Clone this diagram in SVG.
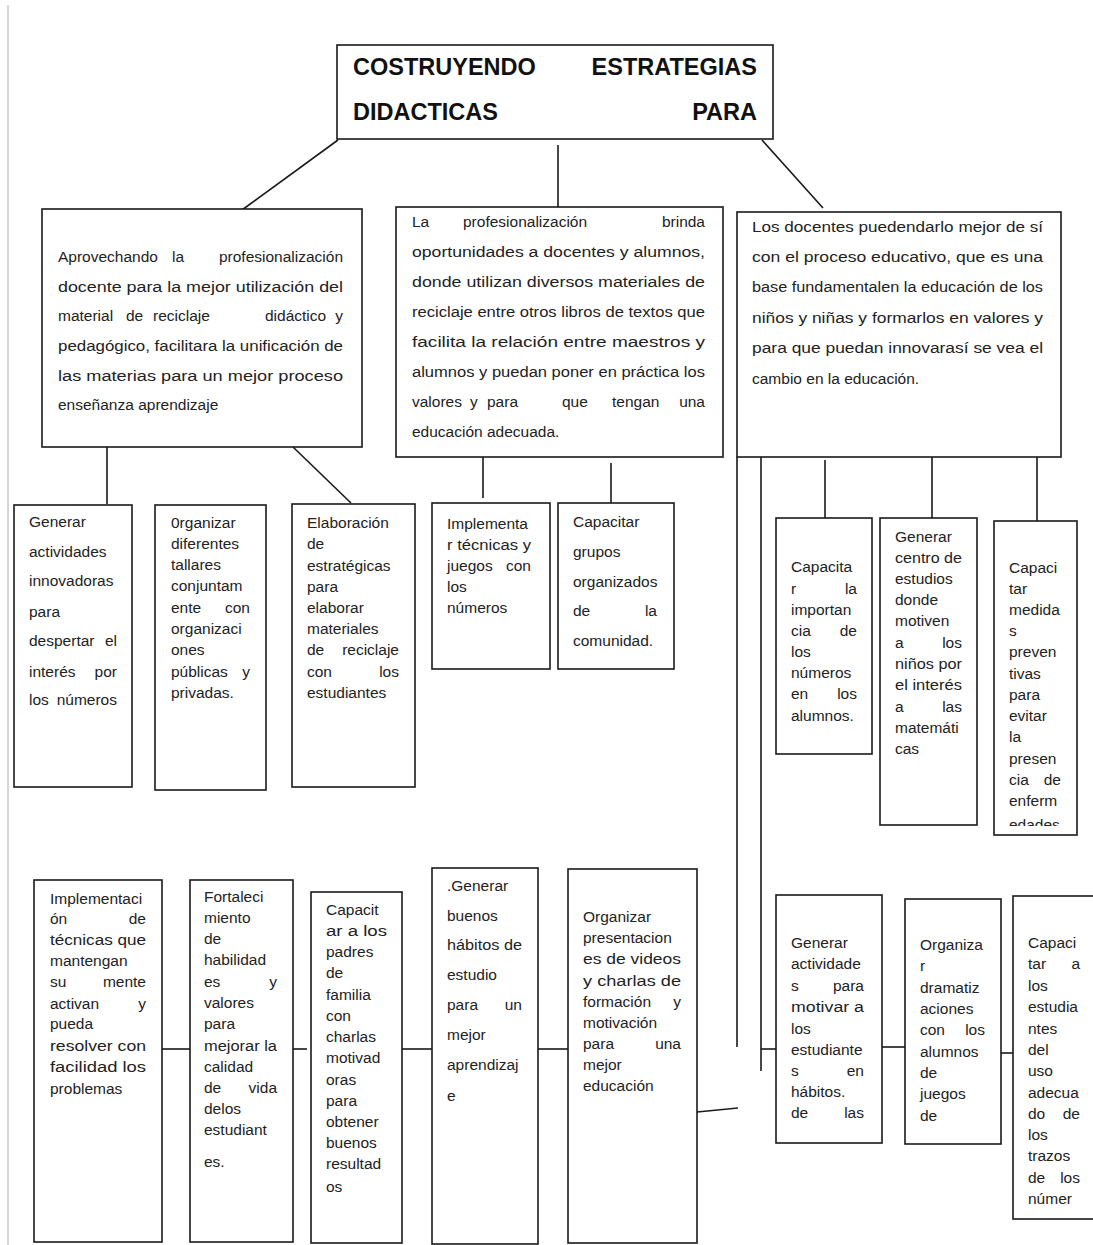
<svg xmlns="http://www.w3.org/2000/svg" width="1093" height="1245" viewBox="0 0 1093 1245">
<style>
.bx{fill:#fff;stroke:#1a1a1a;stroke-width:1.6}
.ln{stroke:#1a1a1a;stroke-width:1.6;fill:none}
.t{font-family:"Liberation Sans",Arial,sans-serif;font-size:15.5px;fill:#222}
.e{text-anchor:end}
.h{font-family:"Liberation Sans",Arial,sans-serif;font-size:23.5px;font-weight:bold;fill:#111}
</style>
<defs>
<clipPath id="c3"><rect x="994" y="521" width="83" height="305"/></clipPath>
</defs>
<rect width="1093" height="1245" fill="#fff"/>
<line x1="8" y1="5" x2="8" y2="1245" stroke="#c8c8c8" stroke-width="1.5"/>

<g id="connectors">
<line class="ln" x1="338" y1="140" x2="242" y2="210"/>
<line class="ln" x1="558" y1="145" x2="558" y2="207"/>
<line class="ln" x1="762" y1="140" x2="823" y2="208"/>
<line class="ln" x1="107" y1="447" x2="107" y2="504"/>
<line class="ln" x1="293" y1="447" x2="351" y2="503"/>
<line class="ln" x1="483" y1="457" x2="483" y2="498"/>
<line class="ln" x1="611" y1="463" x2="611" y2="503"/>
<line class="ln" x1="825" y1="460" x2="825" y2="522"/>
<line class="ln" x1="932" y1="457" x2="932" y2="520"/>
<line class="ln" x1="1037" y1="457" x2="1037" y2="521"/>
<line class="ln" x1="737" y1="457" x2="737" y2="1047"/>
<line class="ln" x1="761" y1="457" x2="761" y2="1071"/>
<line class="ln" x1="761" y1="1049" x2="776" y2="1049"/>
<line class="ln" x1="878" y1="1047" x2="905" y2="1047"/>
<line class="ln" x1="998" y1="1053" x2="1026" y2="1053"/>
<line class="ln" x1="697" y1="1112" x2="738" y2="1108"/>
<line class="ln" x1="162" y1="1049" x2="190" y2="1049"/>
<line class="ln" x1="293" y1="1049" x2="307" y2="1049"/>
<line class="ln" x1="402" y1="1049" x2="433" y2="1049"/>
<line class="ln" x1="538" y1="1049" x2="568" y2="1049"/>
</g>

<g id="title">
<rect class="bx" x="337" y="45" width="436" height="94"/>
<text class="h" x="353" y="75">COSTRUYENDO</text>
<text class="h e" x="757" y="75">ESTRATEGIAS</text>
<text class="h" x="353" y="120">DIDACTICAS</text>
<text class="h e" x="757" y="120">PARA</text>
</g>

<g id="box-left">
<rect class="bx" x="42" y="209" width="320" height="238"/>
<text class="t" x="58" y="262">Aprovechando</text><text class="t" x="172" y="262">la</text><text class="t e" x="343" y="262">profesionalización</text>
<text class="t" x="58" y="292" textLength="285" lengthAdjust="spacingAndGlyphs">docente para la mejor utilización del</text>
<text class="t" x="58" y="321">material</text><text class="t" x="126" y="321">de</text><text class="t" x="153" y="321">reciclaje</text><text class="t" x="265" y="321">didáctico</text><text class="t e" x="343" y="321">y</text>
<text class="t" x="58" y="351" textLength="285" lengthAdjust="spacingAndGlyphs">pedagógico, facilitara  la unificación de</text>
<text class="t" x="58" y="381" textLength="285" lengthAdjust="spacingAndGlyphs">las materias para un mejor proceso</text>
<text class="t" x="58" y="410">enseñanza aprendizaje</text>
</g>

<g id="box-middle">
<rect class="bx" x="396" y="207" width="327" height="250"/>
<text class="t" x="412" y="227">La</text><text class="t" x="463" y="227">profesionalización</text><text class="t e" x="705" y="227">brinda</text>
<text class="t" x="412" y="257" textLength="293" lengthAdjust="spacingAndGlyphs">oportunidades a docentes y alumnos,</text>
<text class="t" x="412" y="287" textLength="293" lengthAdjust="spacingAndGlyphs">donde utilizan diversos materiales de</text>
<text class="t" x="412" y="317" textLength="293" lengthAdjust="spacingAndGlyphs">reciclaje entre otros libros de textos que</text>
<text class="t" x="412" y="347" textLength="293" lengthAdjust="spacingAndGlyphs">facilita la relación entre maestros y</text>
<text class="t" x="412" y="377" textLength="293" lengthAdjust="spacingAndGlyphs">alumnos y puedan poner en práctica los</text>
<text class="t" x="412" y="407">valores</text><text class="t" x="470" y="407">y</text><text class="t" x="487" y="407">para</text><text class="t" x="562" y="407">que</text><text class="t" x="612" y="407">tengan</text><text class="t e" x="705" y="407">una</text>
<text class="t" x="412" y="437">educación adecuada.</text>
</g>

<g id="box-right">
<rect class="bx" x="737" y="212" width="324" height="245"/>
<text class="t" x="752" y="232" textLength="291" lengthAdjust="spacingAndGlyphs">Los docentes puedendarlo mejor de sí</text>
<text class="t" x="752" y="262" textLength="291" lengthAdjust="spacingAndGlyphs">con el proceso educativo, que es una</text>
<text class="t" x="752" y="292" textLength="291" lengthAdjust="spacingAndGlyphs">base fundamentalen la educación de los</text>
<text class="t" x="752" y="323" textLength="291" lengthAdjust="spacingAndGlyphs">niños y niñas y formarlos en valores y</text>
<text class="t" x="752" y="353" textLength="291" lengthAdjust="spacingAndGlyphs">para que puedan innovarasí se vea el</text>
<text class="t" x="752" y="384">cambio en la educación.</text>
</g>

<g id="box-a">
<rect class="bx" x="14" y="505" width="118" height="282"/>
<text class="t" x="29" y="527">Generar</text>
<text class="t" x="29" y="557">actividades</text>
<text class="t" x="29" y="586">innovadoras</text>
<text class="t" x="29" y="617">para</text>
<text class="t" x="29" y="646">despertar</text><text class="t e" x="117" y="646">el</text>
<text class="t" x="29" y="677">interés</text><text class="t e" x="117" y="677">por</text>
<text class="t" x="29" y="705">los</text><text class="t e" x="117" y="705">números</text>
</g>

<g id="box-b">
<rect class="bx" x="155" y="505" width="111" height="285"/>
<text class="t" x="171" y="528">0rganizar</text>
<text class="t" x="171" y="549">diferentes</text>
<text class="t" x="171" y="570">tallares</text>
<text class="t" x="171" y="591">conjuntam</text>
<text class="t" x="171" y="613">ente</text><text class="t e" x="250" y="613">con</text>
<text class="t" x="171" y="634">organizaci</text>
<text class="t" x="171" y="655">ones</text>
<text class="t" x="171" y="677">públicas</text><text class="t e" x="250" y="677">y</text>
<text class="t" x="171" y="698">privadas.</text>
</g>

<g id="box-c">
<rect class="bx" x="292" y="504" width="123" height="283"/>
<text class="t" x="307" y="528">Elaboración</text>
<text class="t" x="307" y="549">de</text>
<text class="t" x="307" y="571">estratégicas</text>
<text class="t" x="307" y="592">para</text>
<text class="t" x="307" y="613">elaborar</text>
<text class="t" x="307" y="634">materiales</text>
<text class="t" x="307" y="655">de</text><text class="t e" x="399" y="655">reciclaje</text>
<text class="t" x="307" y="677">con</text><text class="t e" x="399" y="677">los</text>
<text class="t" x="307" y="698">estudiantes</text>
</g>

<g id="box-d">
<rect class="bx" x="432" y="503" width="118" height="166"/>
<text class="t" x="447" y="529">Implementa</text>
<text class="t" x="447" y="550" textLength="84" lengthAdjust="spacingAndGlyphs">r técnicas y</text>
<text class="t" x="447" y="571">juegos</text><text class="t e" x="531" y="571">con</text>
<text class="t" x="447" y="592">los</text>
<text class="t" x="447" y="613">números</text>
</g>

<g id="box-e">
<rect class="bx" x="558" y="503" width="116" height="166"/>
<text class="t" x="573" y="527">Capacitar</text>
<text class="t" x="573" y="557">grupos</text>
<text class="t" x="573" y="587">organizados</text>
<text class="t" x="573" y="616">de</text><text class="t e" x="657" y="616">la</text>
<text class="t" x="573" y="646">comunidad.</text>
</g>

<g id="box-1">
<rect class="bx" x="776" y="518" width="96" height="236"/>
<text class="t" x="791" y="572">Capacita</text>
<text class="t" x="791" y="594">r</text><text class="t e" x="857" y="594">la</text>
<text class="t" x="791" y="615">importan</text>
<text class="t" x="791" y="636">cia</text><text class="t e" x="857" y="636">de</text>
<text class="t" x="791" y="657">los</text>
<text class="t" x="791" y="678">números</text>
<text class="t" x="791" y="699">en</text><text class="t e" x="857" y="699">los</text>
<text class="t" x="791" y="721">alumnos.</text>
</g>

<g id="box-2">
<rect class="bx" x="880" y="518" width="97" height="307"/>
<text class="t" x="895" y="542">Generar</text>
<text class="t" x="895" y="563" textLength="67" lengthAdjust="spacingAndGlyphs">centro de</text>
<text class="t" x="895" y="584">estudios</text>
<text class="t" x="895" y="605">donde</text>
<text class="t" x="895" y="626">motiven</text>
<text class="t" x="895" y="648">a</text><text class="t e" x="962" y="648">los</text>
<text class="t" x="895" y="669" textLength="67" lengthAdjust="spacingAndGlyphs">niños por</text>
<text class="t" x="895" y="690" textLength="67" lengthAdjust="spacingAndGlyphs">el interés</text>
<text class="t" x="895" y="712">a</text><text class="t e" x="962" y="712">las</text>
<text class="t" x="895" y="733">matemáti</text>
<text class="t" x="895" y="754">cas</text>
</g>

<g id="box-3">
<rect class="bx" x="994" y="521" width="83" height="314"/>
<text class="t" x="1009" y="573">Capaci</text>
<text class="t" x="1009" y="594">tar</text>
<text class="t" x="1009" y="615">medida</text>
<text class="t" x="1009" y="636">s</text>
<text class="t" x="1009" y="657">preven</text>
<text class="t" x="1009" y="679">tivas</text>
<text class="t" x="1009" y="700">para</text>
<text class="t" x="1009" y="721">evitar</text>
<text class="t" x="1009" y="742">la</text>
<text class="t" x="1009" y="764">presen</text>
<text class="t" x="1009" y="785">cia</text><text class="t e" x="1061" y="785">de</text>
<text class="t" x="1009" y="806">enferm</text>
<text class="t" x="1009" y="830" clip-path="url(#c3)">edades</text>
</g>

<g id="box-f">
<rect class="bx" x="34" y="880" width="128" height="362"/>
<text class="t" x="50" y="904">Implementaci</text>
<text class="t" x="50" y="924">ón</text><text class="t e" x="146" y="924">de</text>
<text class="t" x="50" y="945" textLength="96" lengthAdjust="spacingAndGlyphs">técnicas que</text>
<text class="t" x="50" y="966">mantengan</text>
<text class="t" x="50" y="987">su</text><text class="t e" x="146" y="987">mente</text>
<text class="t" x="50" y="1009">activan</text><text class="t e" x="146" y="1009">y</text>
<text class="t" x="50" y="1029">pueda</text>
<text class="t" x="50" y="1051" textLength="96" lengthAdjust="spacingAndGlyphs">resolver con</text>
<text class="t" x="50" y="1072" textLength="96" lengthAdjust="spacingAndGlyphs">facilidad los</text>
<text class="t" x="50" y="1094">problemas</text>
</g>

<g id="box-g">
<rect class="bx" x="190" y="880" width="103" height="362"/>
<text class="t" x="204" y="902">Fortaleci</text>
<text class="t" x="204" y="923">miento</text>
<text class="t" x="204" y="944">de</text>
<text class="t" x="204" y="965">habilidad</text>
<text class="t" x="204" y="987">es</text><text class="t e" x="277" y="987">y</text>
<text class="t" x="204" y="1008">valores</text>
<text class="t" x="204" y="1029">para</text>
<text class="t" x="204" y="1051" textLength="73" lengthAdjust="spacingAndGlyphs">mejorar la</text>
<text class="t" x="204" y="1072">calidad</text>
<text class="t" x="204" y="1093">de</text><text class="t e" x="277" y="1093">vida</text>
<text class="t" x="204" y="1114">delos</text>
<text class="t" x="204" y="1135">estudiant</text>
<text class="t" x="204" y="1167">es.</text>
</g>

<g id="box-h">
<rect class="bx" x="311" y="892" width="91" height="351"/>
<text class="t" x="326" y="915">Capacit</text>
<text class="t" x="326" y="936" textLength="61" lengthAdjust="spacingAndGlyphs">ar a los</text>
<text class="t" x="326" y="957">padres</text>
<text class="t" x="326" y="978">de</text>
<text class="t" x="326" y="1000">familia</text>
<text class="t" x="326" y="1021">con</text>
<text class="t" x="326" y="1042">charlas</text>
<text class="t" x="326" y="1063">motivad</text>
<text class="t" x="326" y="1085">oras</text>
<text class="t" x="326" y="1106">para</text>
<text class="t" x="326" y="1127">obtener</text>
<text class="t" x="326" y="1148">buenos</text>
<text class="t" x="326" y="1169">resultad</text>
<text class="t" x="326" y="1192">os</text>
</g>

<g id="box-i">
<rect class="bx" x="432" y="868" width="106" height="376"/>
<text class="t" x="447" y="891">.Generar</text>
<text class="t" x="447" y="921">buenos</text>
<text class="t" x="447" y="950" textLength="75" lengthAdjust="spacingAndGlyphs">hábitos de</text>
<text class="t" x="447" y="980">estudio</text>
<text class="t" x="447" y="1010">para</text><text class="t e" x="522" y="1010">un</text>
<text class="t" x="447" y="1040">mejor</text>
<text class="t" x="447" y="1070">aprendizaj</text>
<text class="t" x="447" y="1101">e</text>
</g>

<g id="box-j">
<rect class="bx" x="568" y="869" width="129" height="374"/>
<text class="t" x="583" y="922">Organizar</text>
<text class="t" x="583" y="943">presentacion</text>
<text class="t" x="583" y="964" textLength="98" lengthAdjust="spacingAndGlyphs">es de videos</text>
<text class="t" x="583" y="986" textLength="98" lengthAdjust="spacingAndGlyphs">y charlas de</text>
<text class="t" x="583" y="1007">formación</text><text class="t e" x="681" y="1007">y</text>
<text class="t" x="583" y="1028">motivación</text>
<text class="t" x="583" y="1049">para</text><text class="t e" x="681" y="1049">una</text>
<text class="t" x="583" y="1070">mejor</text>
<text class="t" x="583" y="1091">educación</text>
</g>

<g id="box-k">
<rect class="bx" x="776" y="895" width="106" height="248"/>
<text class="t" x="791" y="948">Generar</text>
<text class="t" x="791" y="969">actividade</text>
<text class="t" x="791" y="991">s</text><text class="t e" x="864" y="991">para</text>
<text class="t" x="791" y="1012" textLength="73" lengthAdjust="spacingAndGlyphs">motivar a</text>
<text class="t" x="791" y="1034">los</text>
<text class="t" x="791" y="1055">estudiante</text>
<text class="t" x="791" y="1076">s</text><text class="t e" x="864" y="1076">en</text>
<text class="t" x="791" y="1097">hábitos.</text>
<text class="t" x="791" y="1118">de</text><text class="t e" x="864" y="1118">las</text>
</g>

<g id="box-l">
<rect class="bx" x="905" y="899" width="96" height="245"/>
<text class="t" x="920" y="950">Organiza</text>
<text class="t" x="920" y="971">r</text>
<text class="t" x="920" y="993">dramatiz</text>
<text class="t" x="920" y="1014">aciones</text>
<text class="t" x="920" y="1035">con</text><text class="t e" x="985" y="1035">los</text>
<text class="t" x="920" y="1057">alumnos</text>
<text class="t" x="920" y="1078">de</text>
<text class="t" x="920" y="1099">juegos</text>
<text class="t" x="920" y="1121">de</text>
</g>

<g id="box-m">
<rect class="bx" x="1013" y="896" width="90" height="323"/>
<text class="t" x="1028" y="948">Capaci</text>
<text class="t" x="1028" y="969">tar</text><text class="t e" x="1080" y="969">a</text>
<text class="t" x="1028" y="991">los</text>
<text class="t" x="1028" y="1012">estudia</text>
<text class="t" x="1028" y="1034">ntes</text>
<text class="t" x="1028" y="1055">del</text>
<text class="t" x="1028" y="1076">uso</text>
<text class="t" x="1028" y="1098">adecua</text>
<text class="t" x="1028" y="1119">do</text><text class="t e" x="1080" y="1119">de</text>
<text class="t" x="1028" y="1140">los</text>
<text class="t" x="1028" y="1161">trazos</text>
<text class="t" x="1028" y="1183">de</text><text class="t e" x="1080" y="1183">los</text>
<text class="t" x="1028" y="1204">númer</text>
</g>
</svg>
